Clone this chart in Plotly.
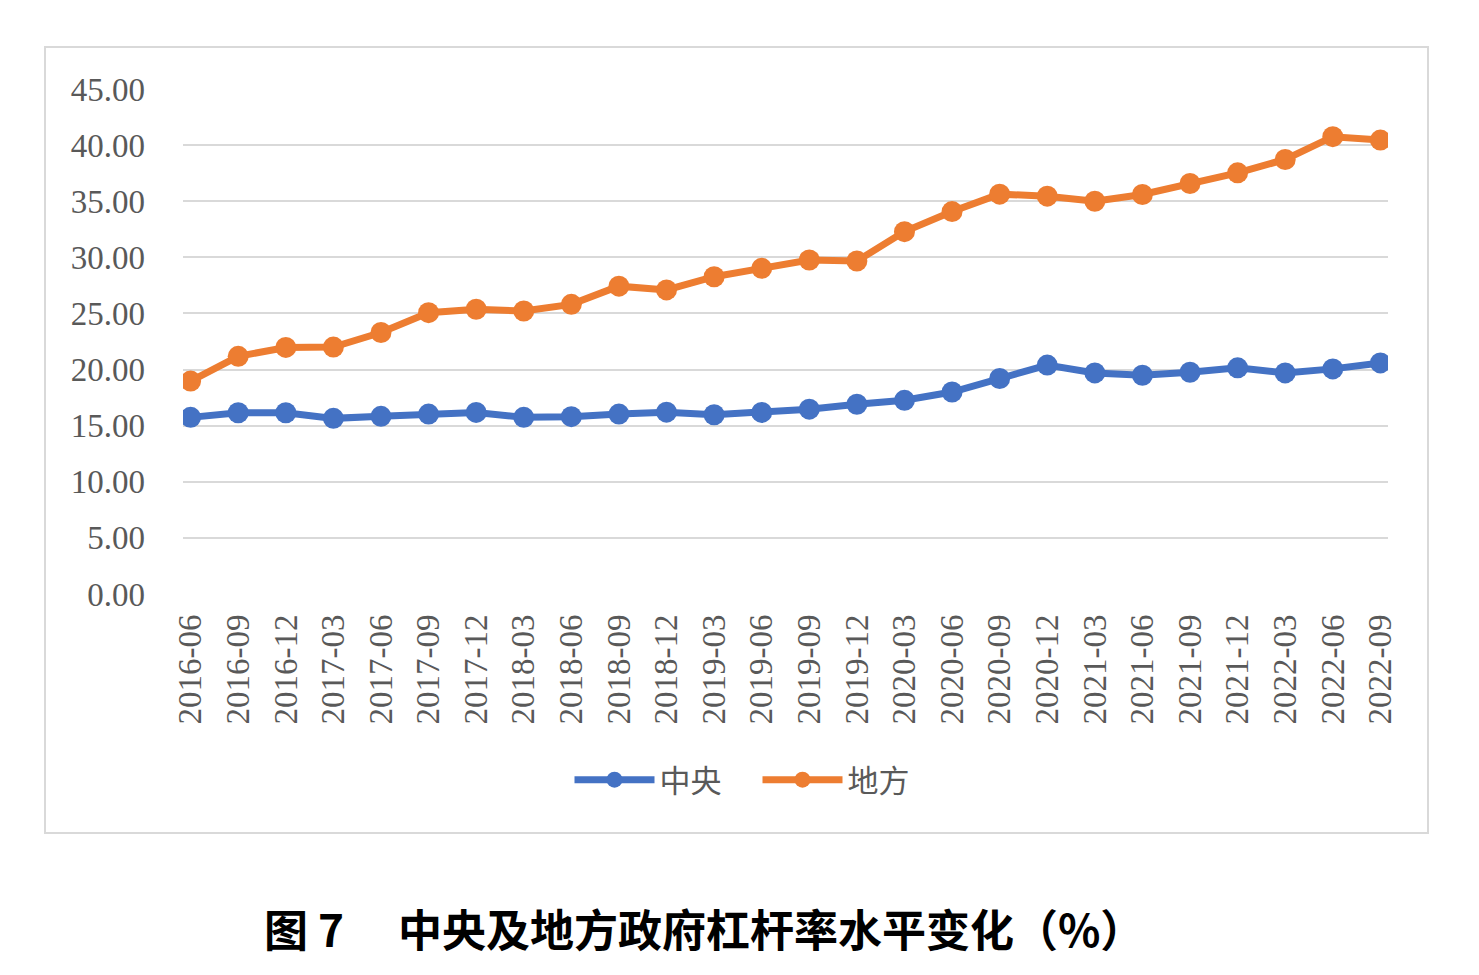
import plotly.graph_objects as go

categories = ["2016-06", "2016-09", "2016-12", "2017-03", "2017-06", "2017-09", "2017-12",
              "2018-03", "2018-06", "2018-09", "2018-12", "2019-03", "2019-06", "2019-09",
              "2019-12", "2020-03", "2020-06", "2020-09", "2020-12", "2021-03", "2021-06",
              "2021-09", "2021-12", "2022-03", "2022-06", "2022-09"]

central = [15.74, 16.15, 16.15, 15.65, 15.83, 16.03, 16.18, 15.74, 15.80, 16.03, 16.20,
           15.97, 16.18, 16.47, 16.91, 17.26, 18.00, 19.20, 20.40, 19.70, 19.49, 19.76,
           20.15, 19.70, 20.06, 20.59]

local = [18.97, 21.18, 21.97, 22.00, 23.30, 25.07, 25.37, 25.22, 25.81, 27.43, 27.10,
         28.27, 29.02, 29.76, 29.67, 32.29, 34.08, 35.63, 35.45, 35.00, 35.60, 36.58,
         37.53, 38.72, 40.75, 40.45]

y_ticks = [0, 5, 10, 15, 20, 25, 30, 35, 40, 45]
y_tick_text = ["%.2f" % v for v in y_ticks]

series_names = ["中央", "地方"]
caption = "图 7\u3000 中央及地方政府杠杆率水平变化（%）"

W, H = 1479, 975
L, R, T, B = 183, 1388, 89, 594

x_idx = list(range(len(categories)))

fig = go.Figure()
fig.add_trace(go.Scatter(x=x_idx, y=central, name=series_names[0] + "\u2003", mode="lines+markers",
                         line=dict(color="#4472C4", width=7),
                         marker=dict(color="#4472C4", size=21)))
fig.add_trace(go.Scatter(x=x_idx, y=local, name=series_names[1], mode="lines+markers",
                         line=dict(color="#ED7D31", width=7),
                         marker=dict(color="#ED7D31", size=21)))

def px_x(p):
    return (p - L) / (R - L)

def px_y(p):
    return (B - p) / (B - T)

fig.update_layout(
    width=W, height=H,
    margin=dict(l=L, r=W - R, t=T, b=H - B),
    paper_bgcolor="white", plot_bgcolor="white",
    showlegend=True,
    legend=dict(orientation="h", x=px_x(742), y=px_y(780), xanchor="center", yanchor="middle",
                font=dict(family="Noto Sans CJK SC", size=31, color="#595959"),
                itemwidth=80, bgcolor="rgba(0,0,0,0)"),
    xaxis=dict(range=[-0.16, len(categories) - 1 + 0.16], tickmode="array",
               tickvals=x_idx, ticktext=categories, tickangle=-90,
               showgrid=False, zeroline=False, showline=False, ticks="",
               ticklabelstandoff=13,
               tickfont=dict(family="Liberation Serif", size=33, color="#595959")),
    yaxis=dict(range=[0, 45], tickmode="array", tickvals=y_ticks, ticktext=y_tick_text,
               showgrid=True, gridcolor="#D9D9D9", gridwidth=1.5, zeroline=False,
               showline=False, ticks="", ticklabelstandoff=37,
               tickfont=dict(family="Liberation Serif", size=33, color="#595959")),
    shapes=[dict(type="rect", xref="paper", yref="paper",
                 x0=px_x(45), x1=px_x(1428), y0=px_y(833), y1=px_y(47),
                 line=dict(color="#D9D9D9", width=2), fillcolor="rgba(0,0,0,0)",
                 layer="below")],
    annotations=[dict(text="<b>" + caption + "</b>", xref="paper", yref="paper",
                      x=px_x(704), y=px_y(928), xanchor="center", yanchor="middle",
                      showarrow=False,
                      font=dict(family="Noto Sans CJK SC", size=44, color="black"))],
)

fig.write_html("out.html")
